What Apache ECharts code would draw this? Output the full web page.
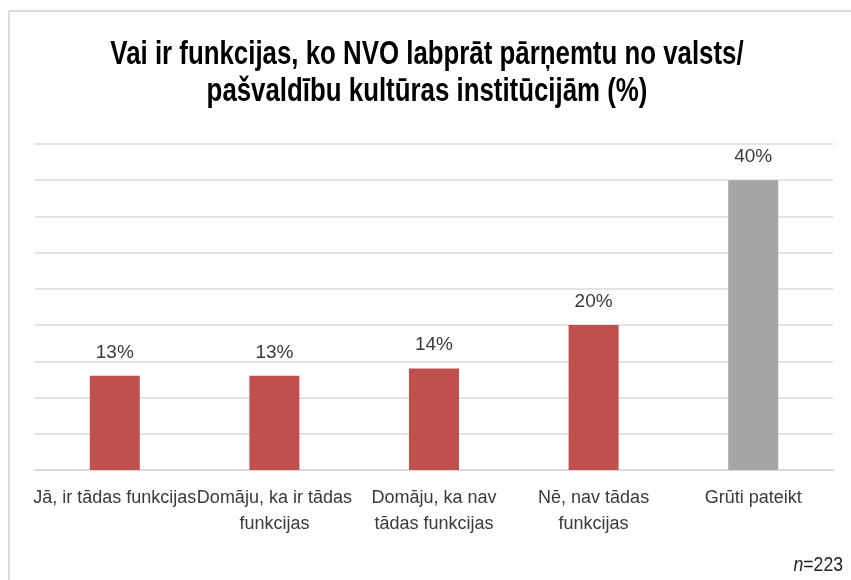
<!DOCTYPE html>
<html>
<head>
<meta charset="utf-8">
<script src="https://cdn.jsdelivr.net/npm/echarts@6/dist/echarts.min.js"></script>
<style>
html,body{margin:0;padding:0;background:#fff;}
#chart{width:851px;height:580px;}
</style>
</head>
<body>
<div id="chart"></div>
<script>
const titleText = 'Vai ir funkcijas, ko NVO labprāt pārņemtu no valsts/\npašvaldību kultūras institūcijām (%)';
const categories = ['Jā, ir tādas funkcijas', 'Domāju, ka ir tādas\nfunkcijas', 'Domāju, ka nav\ntādas funkcijas', 'Nē, nav tādas\nfunkcijas', 'Grūti pateikt'];
const values = [13, 13, 14, 20, 40];
const barColors = ['#C0504D', '#C0504D', '#C0504D', '#C0504D', '#A5A5A5'];
const noteItalic = 'n';
const noteRest = '=223';

const FONT = '"Liberation Sans", Arial, sans-serif';
const chart = echarts.init(document.getElementById('chart'), null, {renderer: 'canvas'});
chart.setOption({
  animation: false,
  backgroundColor: '#fff',
  grid: {left: 35, right: 18, top: 144, bottom: 110},
  xAxis: {
    type: 'category',
    data: categories,
    axisTick: {show: false},
    axisLine: {lineStyle: {color: '#dadada', width: 2}},
    axisLabel: {fontFamily: FONT, fontSize: 18, color: '#3a3a3a', lineHeight: 26, margin: 15, interval: 0}
  },
  yAxis: {
    type: 'value',
    min: 0, max: 45, interval: 5,
    axisLabel: {show: false},
    axisLine: {show: false},
    axisTick: {show: false},
    splitLine: {lineStyle: {color: '#e4e4e4', width: 2}}
  },
  series: [{
    type: 'bar',
    data: values.map((v, i) => ({value: v, itemStyle: {color: barColors[i]}})),
    barWidth: 50,
    label: {show: true, position: 'top', distance: 14, formatter: '{c}%', fontFamily: FONT, fontSize: 19, color: '#3a3a3a'}
  }],
  graphic: [
    {type: 'line', shape: {x1: 9, y1: 11, x2: 851, y2: 11}, style: {stroke: '#dcdcdc', lineWidth: 2}},
    {type: 'line', shape: {x1: 9, y1: 11, x2: 9, y2: 580}, style: {stroke: '#dcdcdc', lineWidth: 2}},
    {type: 'text', x: 427, y: 73, scaleX: 0.76, scaleY: 1,
     style: {text: titleText, x: 0, y: 0, align: 'center', verticalAlign: 'middle',
             font: 'bold 34px ' + FONT, lineHeight: 37, fill: '#000'}},
    {type: 'text', x: 843, y: 565, scaleX: 0.84,
     style: {x: 0, y: 0, align: 'right', verticalAlign: 'middle',
             text: '{i|' + noteItalic + '}{r|' + noteRest + '}',
             rich: {i: {font: 'italic 21px ' + FONT, fill: '#222'}, r: {font: '21px ' + FONT, fill: '#222'}}}}
  ]
});
</script>
</body>
</html>
